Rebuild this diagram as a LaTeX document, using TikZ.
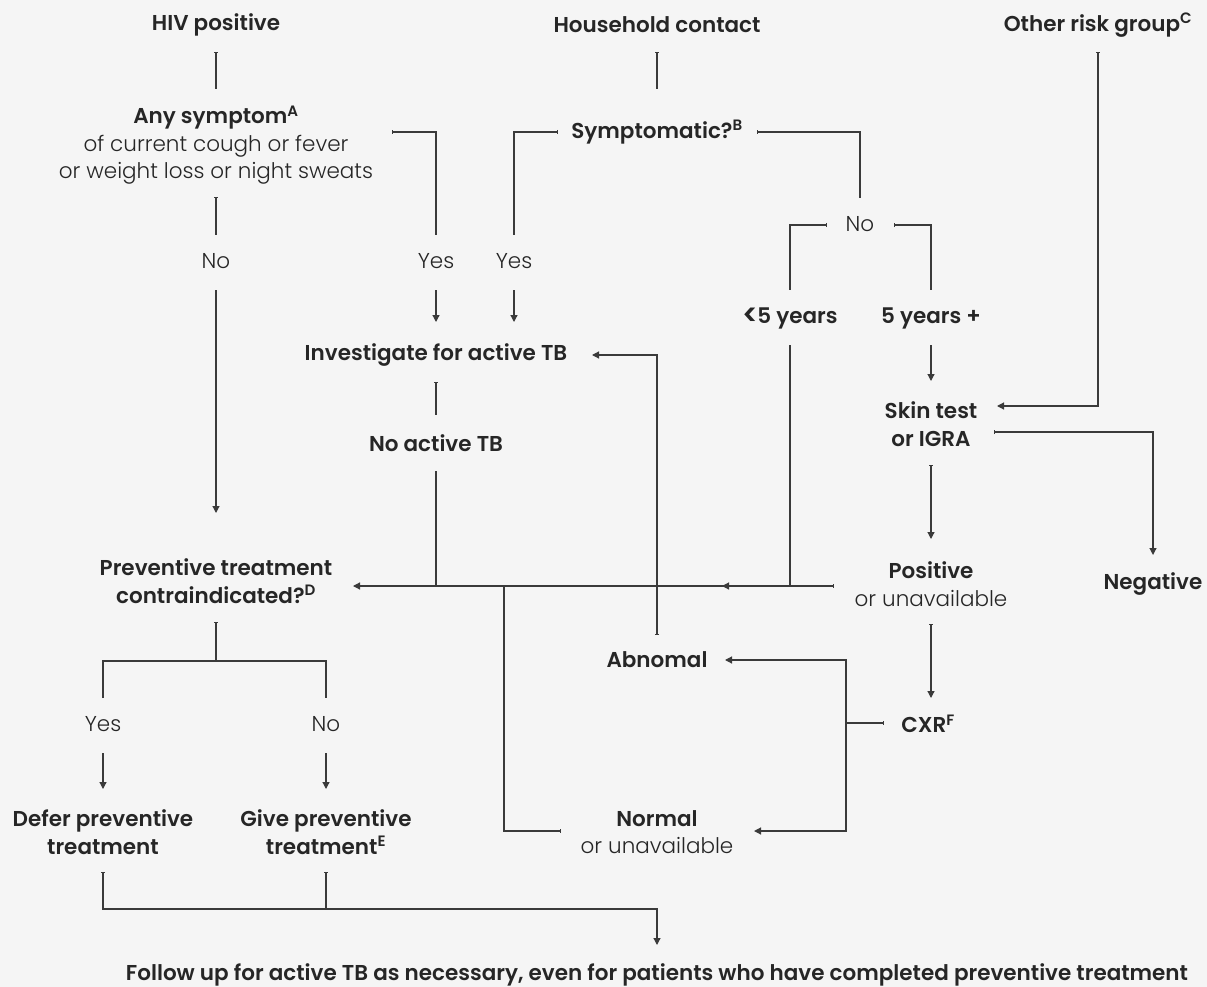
\documentclass[tikz,border=0pt]{standalone}
\usepackage{fontspec}
\setmainfont{Poppins}[UprightFont={Poppins Light},BoldFont={Poppins SemiBold}]
\usetikzlibrary{arrows.meta,calc}
\definecolor{bg}{HTML}{F5F5F5}
\definecolor{ink}{HTML}{262626}
\definecolor{wire}{HTML}{3A3A3A}
\newcommand{\lessthan}{\raisebox{-0.1em}{\scalebox{1.3}[1.4]{<}}\kern-0.06em}
\tikzset{
  every node/.style={text=ink, inner sep=0pt, align=center},
  hd/.style={font=\fontsize{21.5}{27.5}\selectfont\bfseries},
  rg/.style={font=\fontsize{21.5}{27.5}\selectfont},
  conn/.style={draw=wire, line width=1.2pt},
  tick/.style={{Bar[width=4pt,line width=0.9pt]}-},
  arr/.style={-{Triangle[width=7pt,length=7pt]}},
  tickarr/.style={{Bar[width=4pt,line width=0.9pt]}-{Triangle[width=7pt,length=7pt]}}
}
\begin{document}
\begin{tikzpicture}[x=1pt,y=-1pt]
\fill[bg] (0,0) rectangle (1207,987);
\useasboundingbox (0,0) rectangle (1207,987);

% entry groups
\node[hd] (hiv)  at (216,25)  {HIV positive};
\node[hd] (hh)   at (657,25)  {Household contact};
\node[hd] (orc)  at (1098,25) {Other risk group\textsuperscript{C}};

% screening questions
\node[rg] (sym)  at (216,145) {\textbf{Any symptom\textsuperscript{A}}\\of current cough or fever\\or weight loss or night sweats};
\node[hd] (symq) at (657,132) {Symptomatic?\textsuperscript{B}};

% answers
\node[rg] (no1)  at (216,261) {No};
\node[rg] (yes1) at (436,261) {Yes};
\node[rg] (yes2) at (514,261) {Yes};
\node[rg] (no2)  at (860,224) {No};
\node[hd] (lt5)  at (790,318) {\lessthan5 years};
\node[hd] (y5)   at (931,318) {5 years +};

% investigations
\node[hd] (inv)  at (436,355) {Investigate for active TB};
\node[hd] (skin) at (931,424) {Skin test\\or IGRA};
\node[hd] (nat)  at (436,443) {No active TB};
\node[hd] (prev) at (216,581) {Preventive treatment\\contraindicated?\textsuperscript{D}};
\node[hd] (pos)  at (931,584) {Positive\\\mdseries or unavailable};
\node[hd] (neg)  at (1153,584) {Negative};
\node[hd] (abn)  at (657,660) {Abnomal};
\node[hd] (cxr)  at (928,724) {CXR\textsuperscript{F}};
\node[rg] (yes3) at (103,724) {Yes};
\node[rg] (no3)  at (326,724) {No};
\node[hd] (defer) at (103,832) {Defer preventive\\treatment};
\node[hd] (give) at (326,832) {Give preventive\\treatment\textsuperscript{E}};
\node[hd] (norm) at (657,832) {Normal\\\mdseries or unavailable};
\node[hd] (follow) at (657,975) {Follow up for active TB as necessary, even for patients who have completed preventive treatment};

% HIV branch
\draw[conn,tick] ($(hiv)+(0,27)$) -- ($(sym)+(0,-56)$);
\draw[conn,tick] ($(sym)+(0,52)$) -- ($(no1)+(0,-26)$);
\draw[conn,arr]  ($(no1)+(0,29)$) -- ($(prev)+(0,-68)$);
\draw[conn,tick] ($(sym)+(176,-13)$) -| ($(yes1)+(0,-26)$);
\draw[conn,arr]  ($(yes1)+(0,29)$) -- ($(inv)+(0,-33)$);

% household contact branch
\draw[conn,tick] ($(hh)+(0,27)$) -- ($(symq)+(0,-43)$);
\draw[conn,tick] ($(symq)+(-99,0)$) -| ($(yes2)+(0,-26)$);
\draw[conn,arr]  ($(yes2)+(0,29)$) -- ($(inv)+(78,-33)$);
\draw[conn,tick] ($(symq)+(100,0)$) -| ($(no2)+(0,-26)$);
\draw[conn,tick] ($(no2)+(-33,1)$) -| ($(lt5)+(0,-28)$);
\draw[conn,tick] ($(no2)+(34,1)$) -| ($(y5)+(0,-28)$);
\draw[conn,arr]  ($(y5)+(0,27)$) -- ($(skin)+(0,-43)$);

% other risk group
\draw[conn,tickarr] ($(orc)+(0,27)$) |- ($(skin)+(66,-18)$);

% test results
\draw[conn,tickarr] ($(skin)+(63,8)$) -| ($(neg)+(0,-29)$);
\draw[conn,tickarr] ($(skin)+(0,41)$) -- ($(pos)+(0,-45)$);
\draw[conn,tick] ($(inv)+(0,27)$) -- ($(nat)+(0,-28)$);

% collecting line into the contraindication question
\coordinate (posL) at ($(pos)+(-97,2)$);
\draw[conn,tickarr] (posL) -- ($(prev)+(137,5)$);
\draw[conn,arr] (posL) -- ++(-112,0);
\draw[conn] ($(nat)+(0,28)$) -- (nat |- posL);
\draw[conn] ($(lt5)+(0,27)$) -- (lt5 |- posL);

% chest X-ray
\draw[conn,tickarr] ($(pos)+(0,40)$) -- ($(cxr)+(3,-26)$);
\draw[conn,tickarr] ($(cxr)+(-44,-1)$) -- ++(-38,0) |- ($(abn)+(68,0)$);
\draw[conn,arr] ($(cxr)+(-82,-1)$) |- ($(norm)+(97,-1)$);
\draw[conn,tickarr] ($(abn)+(0,-25)$) |- ($(inv)+(156,0)$);
\draw[conn,tick] ($(norm)+(-96,-1)$) -- ++(-57,0) -- ++(0,-245);

% decision on preventive treatment
\draw[conn,tick] ($(prev)+(0,41)$) -- ($(prev)+(0,80)$);
\draw[conn] ($(yes3)+(0,-26)$) |- ($(prev)+(0,80)$) -| ($(no3)+(0,-26)$);
\draw[conn,arr] ($(yes3)+(0,29)$) -- ($(defer)+(0,-43)$);
\draw[conn,arr] ($(no3)+(0,29)$) -- ($(give)+(0,-43)$);

% follow-up
\draw[conn,tickarr] ($(defer)+(0,40)$) |- ($(follow)+(0,-66)$) -- ($(follow)+(0,-30)$);
\draw[conn,tick] ($(give)+(0,40)$) -- ($(give)+(0,77)$);
\end{tikzpicture}
\end{document}
